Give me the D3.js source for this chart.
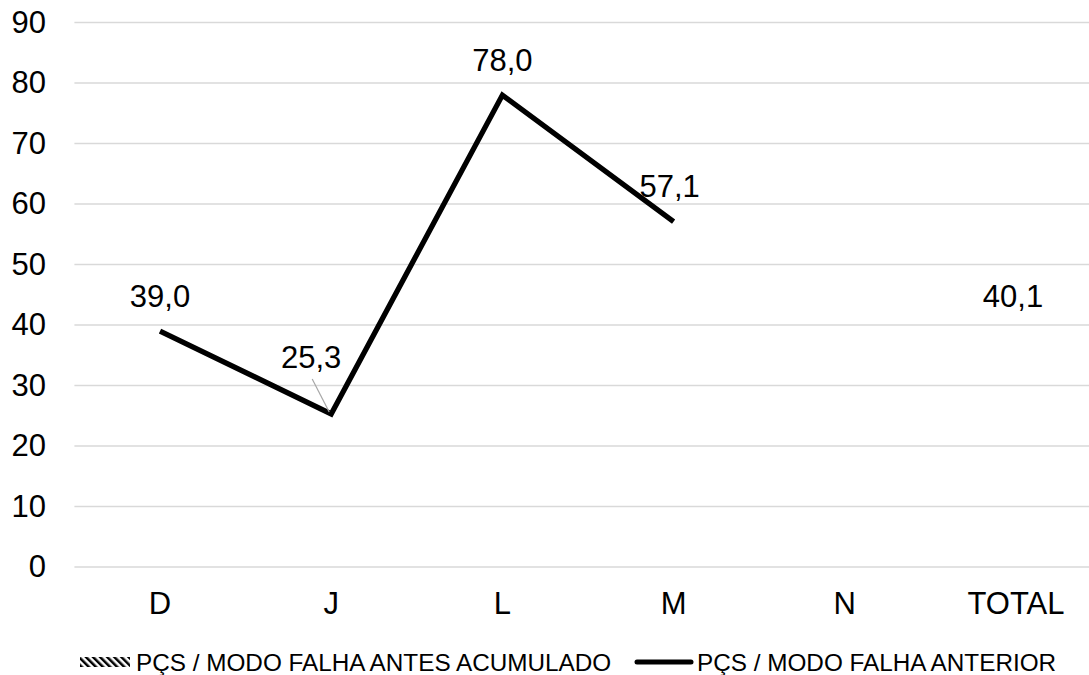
<!DOCTYPE html>
<html><head><meta charset="utf-8">
<script src="https://cdn.jsdelivr.net/npm/d3@7"></script>
<style>body{margin:0;background:#fff;} text{font-family:"Liberation Sans",Arial,sans-serif;fill:#000;}</style>
</head><body>
<svg id="c" width="1089" height="675"></svg>
<script>
const categories = ["D","J","L","M","N","TOTAL"];
const lineValues = [39.0, 25.3, 78.0, 57.1, null, null];
const barValues = [null, null, null, null, null, 40.1];
const yTicks = [0,10,20,30,40,50,60,70,80,90];
const seriesNames = ["PÇS / MODO FALHA ANTES ACUMULADO", "PÇS / MODO FALHA ANTERIOR"];

const svg = d3.select("#c");
const x = d3.scaleBand().domain(categories).range([74.4, 1101.6]).padding(0);
const y = d3.scaleLinear().domain([0,90]).range([567, 22.5]);
const cx = c => x(c) + x.bandwidth()/2;
const fmt = v => d3.format(".1f")(v).replace(".", ",");

// hatch pattern
const defs = svg.append("defs");
const pat = defs.append("pattern").attr("id","hatch").attr("patternUnits","userSpaceOnUse")
  .attr("width",5).attr("height",5).attr("patternTransform","rotate(-45)");
pat.append("rect").attr("width",5).attr("height",5).attr("fill","#fff");
pat.append("rect").attr("width",2.5).attr("height",5).attr("fill","#000");

// gridlines
svg.append("g").selectAll("line").data(yTicks).join("line")
  .attr("x1",74.4).attr("x2",1101.6)
  .attr("y1",d=>y(d)).attr("y2",d=>y(d))
  .attr("stroke","#d9d9d9").attr("stroke-width",1.5);

// y axis
const yAxis = svg.append("g").attr("transform","translate(46,0)")
  .call(d3.axisLeft(y).tickValues(yTicks).tickSize(0).tickPadding(0));
yAxis.select(".domain").remove();
yAxis.selectAll("text").style("font-size","31px").attr("font-family","Liberation Sans, Arial, sans-serif").attr("fill","#000");

// x axis
const xAxis = svg.append("g").attr("transform","translate(0,592)")
  .call(d3.axisBottom(x).tickSize(0).tickPadding(0));
xAxis.select(".domain").remove();
xAxis.selectAll("text").style("font-size","31px").attr("font-family","Liberation Sans, Arial, sans-serif").attr("fill","#000");

// line
const pts = categories.map((c,i)=>({c, v:lineValues[i]})).filter(d=>d.v!=null);
svg.append("path").datum(pts)
  .attr("d", d3.line().x(d=>cx(d.c)).y(d=>y(d.v)))
  .attr("fill","none").attr("stroke","#000").attr("stroke-width",5.3).attr("stroke-linejoin","miter");

// custom label offsets (dx, dy of text center relative to point)
const labelOffsets = {J:[-20,-56], M:[-4,-35]};
const off = c => labelOffsets[c] || [0,-35];
// leader line for J
const jv = lineValues[categories.indexOf("J")];
svg.append("line")
  .attr("x1", cx("J")-19).attr("y1", y(jv)-35)
  .attr("x2", cx("J")-2).attr("y2", y(jv)-2)
  .attr("stroke","#a6a6a6").attr("stroke-width",1.2);

svg.append("g").selectAll("text").data(pts).join("text")
  .attr("x", d => cx(d.c) + off(d.c)[0])
  .attr("y", d => y(d.v) + off(d.c)[1])
  .attr("text-anchor","middle").attr("dominant-baseline","central")
  .style("font-size","31px").text(d=>fmt(d.v));

// bar labels (bar series has no visible fill)
const bars = categories.map((c,i)=>({c, v:barValues[i]})).filter(d=>d.v!=null);
svg.append("g").selectAll("text").data(bars).join("text")
  .attr("x", d=>cx(d.c)-3).attr("y", d=>y(d.v)-28)
  .attr("text-anchor","middle").attr("dominant-baseline","central")
  .style("font-size","31px").text(d=>fmt(d.v));

// legend
const lg = svg.append("g");
lg.append("rect").attr("x",80).attr("y",657).attr("width",50).attr("height",10).attr("fill","url(#hatch)");
lg.append("text").attr("x",136).attr("y",662).attr("dominant-baseline","central")
  .style("font-size","24.3px").text(seriesNames[0]);
lg.append("line").attr("x1",637).attr("x2",691).attr("y1",662).attr("y2",662)
  .attr("stroke","#000").attr("stroke-width",5).attr("stroke-linecap","round");
lg.append("text").attr("x",697).attr("y",662).attr("dominant-baseline","central")
  .style("font-size","24.3px").text(seriesNames[1]);
</script>
</body></html>
